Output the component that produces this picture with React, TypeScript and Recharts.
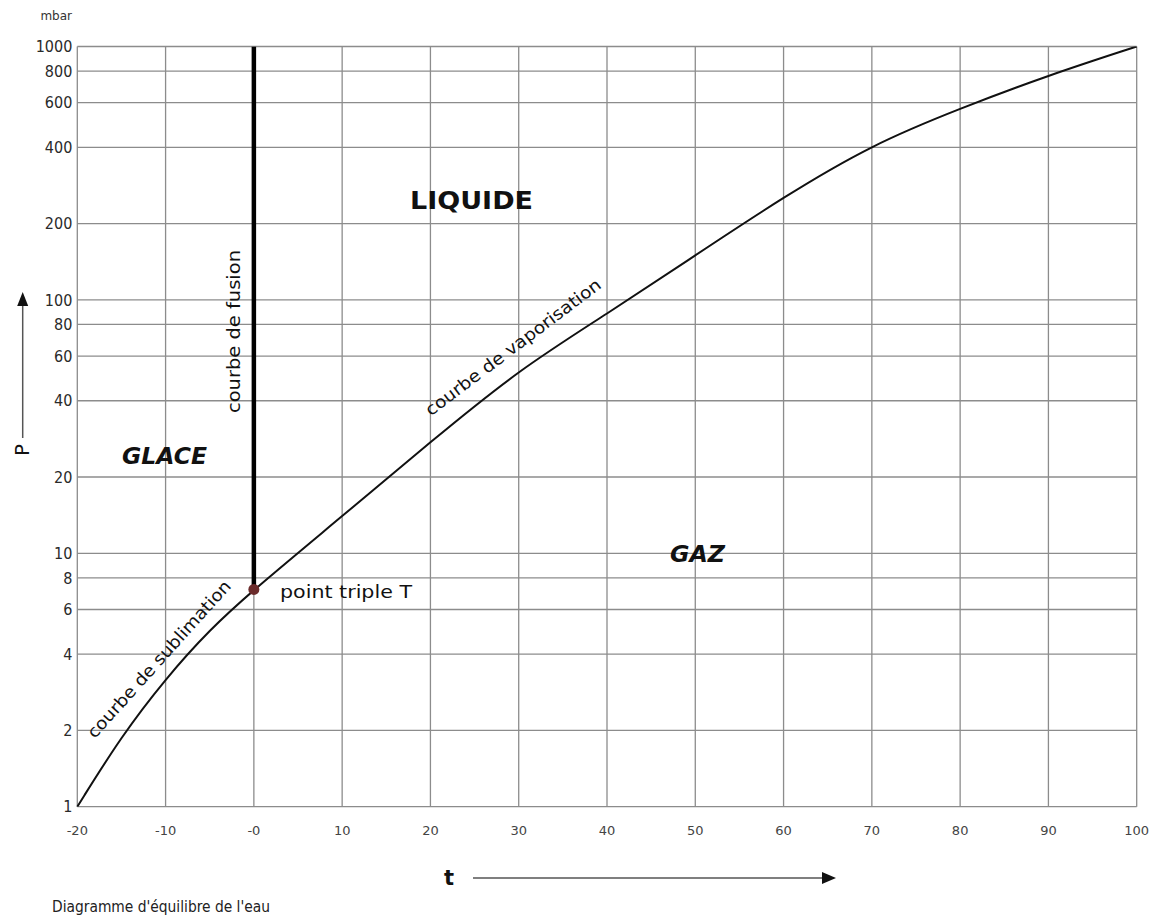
import { LineChart, Line, XAxis, YAxis, CartesianGrid, ReferenceDot } from 'recharts';

// vapour pressure of water (mbar) against temperature (°C)
const temperatures = [-20, -15, -10, -5, 0, 10, 20, 30, 40, 50, 60, 70, 80, 90, 100];
const pressures = [1, 1.9, 3.2, 5, 7.2, 14, 27.5, 53, 88, 150, 255, 410, 570, 770, 1000];

// triple point and the melting line going straight up from it
const tripleT = 0;
const tripleP = 7.2;
const fusionPressures = [tripleP, 1000];

const xTicks = [-20, -10, 0, 10, 20, 30, 40, 50, 60, 70, 80, 90, 100];
const xTickLabels = ['-20', '-10', '-0', '10', '20', '30', '40', '50', '60', '70', '80', '90', '100'];
const yTicks = [1, 2, 4, 6, 8, 10, 20, 40, 60, 80, 100, 200, 400, 600, 800, 1000];

const vaporData = temperatures.map((t, i) => ({ t, p: pressures[i] }));
const fusionData = fusionPressures.map((p) => ({ t: tripleT, p }));

const W = 1151;
const H = 920;
const font = '"DejaVu Sans", Verdana, sans-serif';

const App = () => {
  return (
    <div style={{ position: 'absolute', left: 0, top: 0, width: W, height: H }}>
      <LineChart
        width={W}
        height={H}
        margin={{ top: 46.5, right: 14.3, bottom: 83.3, left: 37.3 }}
      >
        <CartesianGrid stroke="#8c8c8c" strokeWidth={1.3} />
        <XAxis
          type="number"
          dataKey="t"
          domain={[-20, 100]}
          ticks={xTicks}
          tickFormatter={(v) => xTickLabels[xTicks.indexOf(v)]}
          axisLine={false}
          tickLine={false}
          tickSize={0}
          tickMargin={19}
          height={30}
          tick={{ fill: '#444', fontSize: 13, fontFamily: font }}
        />
        <YAxis
          type="number"
          dataKey="p"
          scale="log"
          domain={[1, 1000]}
          ticks={yTicks}
          allowDataOverflow
          axisLine={false}
          tickLine={false}
          tickSize={0}
          tickMargin={5}
          width={40}
          tick={{ fill: '#2a2a2a', fontSize: 16, fontFamily: '"DejaVu Sans Condensed", "Liberation Sans Narrow", ' + font }}
        />
        <Line
          data={vaporData}
          dataKey="p"
          type="basis"
          stroke="#111"
          strokeWidth={2}
          dot={false}
          isAnimationActive={false}
        />
        <Line
          data={fusionData}
          dataKey="p"
          type="linear"
          stroke="#000"
          strokeWidth={4.5}
          dot={false}
          isAnimationActive={false}
        />
        <ReferenceDot x={tripleT} y={tripleP} r={5.5} fill="#6b2b2b" stroke="none" />
      </LineChart>

      <svg
        width={W}
        height={H}
        style={{ position: 'absolute', left: 0, top: 0, pointerEvents: 'none' }}
        fontFamily={font}
      >
        <text x={72} y={20} fontSize={12} fill="#333" textAnchor="end">mbar</text>

        {/* pressure axis title with its arrow */}
        <text x={22} y={450} fontSize={20} fill="#111" textAnchor="middle" dominantBaseline="central" transform="rotate(-90 22 450)">P</text>
        <line x1={22.7} y1={438} x2={22.7} y2={302} stroke="#555" strokeWidth={1.5} />
        <polygon points="22.7,292 17.2,306 28.2,306" fill="#111" />

        {/* temperature axis title with its arrow */}
        <text x={449} y={878} fontSize={21} fontWeight={600} fill="#111" textAnchor="middle" dominantBaseline="central">t</text>
        <line x1={473} y1={878} x2={825} y2={878} stroke="#555" strokeWidth={1.5} />
        <polygon points="836,878 822,872 822,884" fill="#111" />

        <text x={52} y={912} fontSize={16} fill="#222" textLength={218} lengthAdjust="spacingAndGlyphs">Diagramme d'équilibre de l'eau</text>

        {/* phase regions */}
        <text x={410} y={209} fontSize={24} fontWeight="bold" fill="#111" textLength={123} lengthAdjust="spacingAndGlyphs">LIQUIDE</text>
        <text x={122} y={464} fontSize={23} fontWeight="bold" fontStyle="italic" fill="#111" textLength={85} lengthAdjust="spacingAndGlyphs">GLACE</text>
        <text x={670} y={562} fontSize={23} fontWeight="bold" fontStyle="italic" fill="#111" textLength={55} lengthAdjust="spacingAndGlyphs">GAZ</text>

        {/* curve names */}
        <text x={240} y={413} fontSize={17} fill="#111" textLength={163} lengthAdjust="spacingAndGlyphs" transform="rotate(-90 240 413)">courbe de fusion</text>
        <text x={513} y={347} fontSize={17} fill="#111" textAnchor="middle" dominantBaseline="central" textLength={215} lengthAdjust="spacingAndGlyphs" transform="rotate(-37 513 347)">courbe de vaporisation</text>
        <text x={159} y={659} fontSize={17} fill="#111" textAnchor="middle" dominantBaseline="central" textLength={205} lengthAdjust="spacingAndGlyphs" transform="rotate(-48 159 659)">courbe de sublimation</text>
        <text x={280} y={598} fontSize={17} fill="#111" textLength={132} lengthAdjust="spacingAndGlyphs">point triple T</text>
      </svg>
    </div>
  );
};

export default App;
